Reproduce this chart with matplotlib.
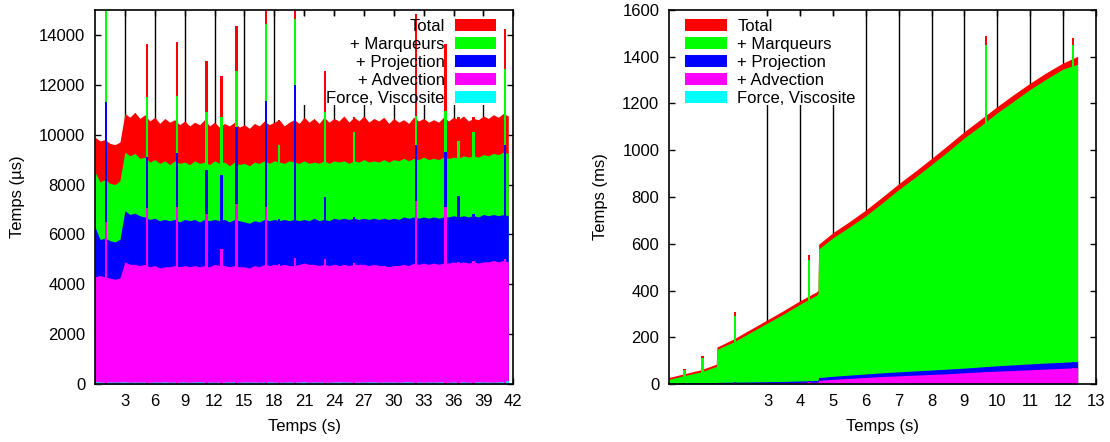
import numpy as np
import matplotlib
matplotlib.use("Agg")
import matplotlib.pyplot as plt
from matplotlib.patches import Patch, Rectangle

plt.rcParams['font.family'] = ['Liberation Sans', 'DejaVu Sans']

labels = ["Total", "+ Marqueurs", "+ Projection", "+ Advection", "Force, Viscosite"]
colors = ["#ff0000", "#00ff00", "#0000ff", "#ff00ff", "#00ffff"]

# ---- left run (µs), cumulative layers sampled every 0.5 s
t_left = np.arange(0, 42, 0.5)
total_left = [9900, 9750, 9800, 9650, 9600, 9700, 10850, 10700, 10900, 10650, 10800, 10550,
              10700, 10450, 10650, 10500, 10600, 10400, 10550, 10350, 10500, 10400, 10600, 10350,
              10500, 10300, 10450, 10350, 10500, 10300, 10400, 10250, 10450, 10350, 10550, 10400,
              10500, 10600, 10350, 10500, 10600, 10450, 10700, 10500, 10650, 10450, 10700, 10500,
              10650, 10550, 10750, 10500, 10700, 10550, 10750, 10500, 10650, 10550, 10700, 10450,
              10650, 10500, 10600, 10450, 10700, 10550, 10650, 10500, 10600, 10500, 10700, 10550,
              10700, 10600, 10750, 10550, 10650, 10600, 10750, 10650, 10800, 10700, 10850, 10750]
marq_left = [8500, 8100, 8200, 8050, 8000, 8150, 9300, 9150, 9250, 9050, 9100, 8900,
             9000, 8850, 8950, 8800, 8950, 8850, 8900, 8800, 8950, 8850, 8900, 8800,
             8950, 8850, 8900, 8750, 8900, 8800, 8850, 8750, 8900, 8850, 8950, 8850,
             8950, 8900, 8850, 8950, 8900, 8850, 8950, 8850, 8900, 8850, 8950, 8850,
             8950, 8900, 8950, 8850, 8950, 8900, 9000, 8900, 8950, 8900, 9000, 8900,
             9000, 8950, 9050, 8950, 9050, 9000, 9100, 9000, 9050, 9000, 9100, 9050,
             9100, 9050, 9150, 9100, 9150, 9100, 9200, 9150, 9250, 9200, 9300, 9250]
proj_left = [6300, 5800, 5850, 5750, 5700, 5800, 6950, 6800, 6850, 6750, 6700, 6600,
             6650, 6550, 6600, 6550, 6600, 6500, 6600, 6550, 6600, 6500, 6600, 6550,
             6600, 6550, 6600, 6500, 6600, 6550, 6500, 6450, 6550, 6500, 6600, 6550,
             6600, 6550, 6600, 6550, 6600, 6550, 6600, 6550, 6650, 6550, 6600, 6550,
             6650, 6600, 6650, 6600, 6650, 6600, 6650, 6600, 6650, 6600, 6650, 6600,
             6650, 6600, 6700, 6650, 6700, 6650, 6700, 6650, 6700, 6650, 6700, 6700,
             6750, 6700, 6750, 6700, 6750, 6700, 6800, 6750, 6800, 6750, 6800, 6750]
adv_left = [4300, 4350, 4300, 4250, 4200, 4250, 4900, 4800, 4800, 4750, 4800, 4700,
            4750, 4650, 4700, 4700, 4750, 4700, 4750, 4700, 4750, 4700, 4750, 4700,
            4800, 4750, 4750, 4700, 4750, 4700, 4700, 4650, 4750, 4700, 4800, 4750,
            4800, 4750, 4800, 4750, 4750, 4800, 4850, 4800, 4800, 4750, 4800, 4750,
            4800, 4750, 4800, 4750, 4800, 4800, 4800, 4750, 4800, 4750, 4750, 4700,
            4750, 4750, 4800, 4750, 4850, 4800, 4850, 4800, 4850, 4800, 4850, 4850,
            4900, 4850, 4900, 4850, 4900, 4850, 4900, 4900, 4950, 4900, 4950, 4900]
force_left = [90, 80, 70, 80, 75, 80, 85, 70, 80, 75, 80, 70,
              80, 75, 85, 70, 80, 75, 80, 70, 80, 85, 75, 80,
              70, 80, 75, 80, 85, 70, 80, 75, 80, 70, 80, 85,
              75, 80, 70, 80, 75, 80, 85, 70, 80, 75, 80, 70,
              80, 85, 75, 80, 70, 80, 75, 80, 85, 70, 80, 75,
              80, 70, 80, 85, 75, 80, 70, 80, 75, 80, 85, 70,
              80, 75, 80, 70, 80, 85, 75, 80, 70, 80, 90, 150]

# isolated peaks (time, then each cumulative layer)
peak_t_left = [1.1, 5.2, 8.2, 11.2, 12.7, 14.2, 17.2, 18.5, 20.1, 23.1, 26.0, 32.2, 35.2, 36.5, 38.0, 41.2]
peak_total_left = [15500, 13650, 13700, 12950, 12350, 14350, 15500, 10600, 15500, 12550, 10700, 14850, 13650, 10700, 10700, 14250]
peak_marq_left = [15200, 11500, 11550, 10900, 10700, 12550, 14450, 9600, 14650, 10900, 10100, 10750, 10950, 9750, 10100, 12650]
peak_proj_left = [11300, 9100, 9250, 8600, 8400, 10300, 11350, 6600, 12000, 7500, 6700, 9600, 9300, 7550, 6800, 9600]
peak_adv_left = [6500, 7050, 7100, 6800, 5400, 7200, 7100, 4800, 5050, 5000, 4850, 7350, 7100, 4900, 4950, 5000]

# ---- right run (ms)
t_right = [0, 0.5, 1.0, 1.44, 1.46, 2.0, 2.5, 3.0, 3.5, 4.0, 4.5, 4.54, 4.56, 5.0, 5.5,
           6.0, 6.5, 7.0, 7.5, 8.0, 8.5, 9.0, 9.5, 10.0, 10.5, 11.0, 11.5, 12.0, 12.45]
total_right = [28, 45, 62, 85, 158, 195, 235, 275, 315, 357, 395, 402, 598, 648, 695,
               745, 800, 857, 910, 965, 1022, 1080, 1133, 1187, 1238, 1287, 1332, 1373, 1402]
marq_right = [20, 37, 53, 75, 148, 182, 222, 261, 300, 342, 380, 387, 578, 626, 672,
              720, 775, 832, 884, 939, 995, 1053, 1105, 1160, 1210, 1260, 1305, 1347, 1368]
proj_right = [3, 4, 5, 6, 7, 8, 9, 10, 11, 13, 15, 16, 28, 33, 38,
              43, 48, 52, 56, 60, 64, 68, 73, 78, 82, 86, 90, 93, 96]
adv_right = [2, 2, 3, 3, 4, 4, 5, 5, 6, 7, 8, 9, 16, 20, 24,
             28, 32, 35, 38, 41, 44, 48, 52, 55, 58, 61, 64, 67, 70]
force_right = [2, 2, 2, 2, 2, 2, 2, 2, 2, 2, 2, 2, 3, 3, 3,
               3, 3, 3, 3, 3, 3, 3, 3, 3, 3, 3, 3, 3, 3]

peak_t_right = [0.47, 1.02, 2.02, 4.27, 9.65, 12.3]
peak_total_right = [65, 120, 308, 550, 1490, 1480]
peak_marq_right = [60, 112, 290, 530, 1450, 1450]
peak_proj_right = [4, 5, 8, 14, 72, 94]
peak_adv_right = [2, 3, 4, 8, 50, 68]

FS = 12


def draw_panel(ax, t, layers, peak_t, peak_layers, peak_w, xmax, ymax, xticks, yticks):
    for vals, c in zip(layers, colors):
        ax.fill_between(t, 0, vals, color=c, linewidth=0, zorder=1)
    for vals, c in zip(peak_layers, colors):
        ax.bar(peak_t, vals, width=peak_w, color=c, linewidth=0, zorder=1.2)
    ax.vlines(xticks[:-1] if xticks[-1] == xmax else xticks, 0, ymax,
              color='black', linewidth=1.0, zorder=0.3)
    ax.set_xlim(0, xmax)
    ax.set_ylim(0, ymax)
    ax.set_xticks(xticks)
    ax.set_yticks(yticks)
    ax.set_axisbelow(True)
    ax.tick_params(direction='in', length=4.5, width=1.0, top=True, right=True,
                   labelsize=FS, pad=7)
    for s in ax.spines.values():
        s.set_linewidth(1.2)


fig = plt.figure(figsize=(11.1, 4.42), dpi=100)
ax1 = fig.add_axes([0.0856, 0.1312, 0.3768, 0.8462])
ax2 = fig.add_axes([0.6027, 0.1312, 0.3844, 0.8462])

draw_panel(ax1, t_left, [total_left, marq_left, proj_left, adv_left, force_left],
           peak_t_left, [peak_total_left, peak_marq_left, peak_proj_left, peak_adv_left],
           0.22, 42, 15000, list(range(3, 43, 3)), list(range(0, 15000, 2000)))
draw_panel(ax2, t_right, [total_right, marq_right, proj_right, adv_right, force_right],
           peak_t_right, [peak_total_right, peak_marq_right, peak_proj_right, peak_adv_right],
           0.07, 13, 1600, list(range(3, 14)), list(range(0, 1601, 200)))

handles = [Patch(facecolor=c, edgecolor='none') for c in colors]

# white key areas hide the grid lines
ax1.add_patch(Rectangle((0.49, 0.746), 0.51, 0.238, transform=ax1.transAxes,
                        facecolor='white', edgecolor='none', zorder=0.4))
ax2.add_patch(Rectangle((0.0, 0.746), 0.436, 0.238, transform=ax2.transAxes,
                        facecolor='white', edgecolor='none', zorder=0.4))

ax1.legend(handles, labels, loc='upper right', bbox_to_anchor=(0.958, 0.976),
           frameon=False, markerfirst=False, fontsize=FS, handlelength=2.45,
           handleheight=0.72, labelspacing=0.175, handletextpad=0.6,
           borderaxespad=0, borderpad=0)
ax2.legend(handles, labels, loc='upper left', bbox_to_anchor=(0.037, 0.976),
           frameon=False, fontsize=FS, handlelength=2.55,
           handleheight=0.72, labelspacing=0.175, handletextpad=0.6,
           borderaxespad=0, borderpad=0)

ax1.set_xlabel("Temps (s)", fontsize=FS)
ax1.set_ylabel("Temps (µs)", fontsize=FS)
ax2.set_xlabel("Temps (s)", fontsize=FS)
ax2.set_ylabel("Temps (ms)", fontsize=FS)
ax1.xaxis.set_label_coords(0.5, -0.094)
ax2.xaxis.set_label_coords(0.5, -0.094)
ax1.yaxis.set_label_coords(-0.167, 0.5)
ax2.yaxis.set_label_coords(-0.143, 0.5)

fig.savefig("out.png", dpi=100)
